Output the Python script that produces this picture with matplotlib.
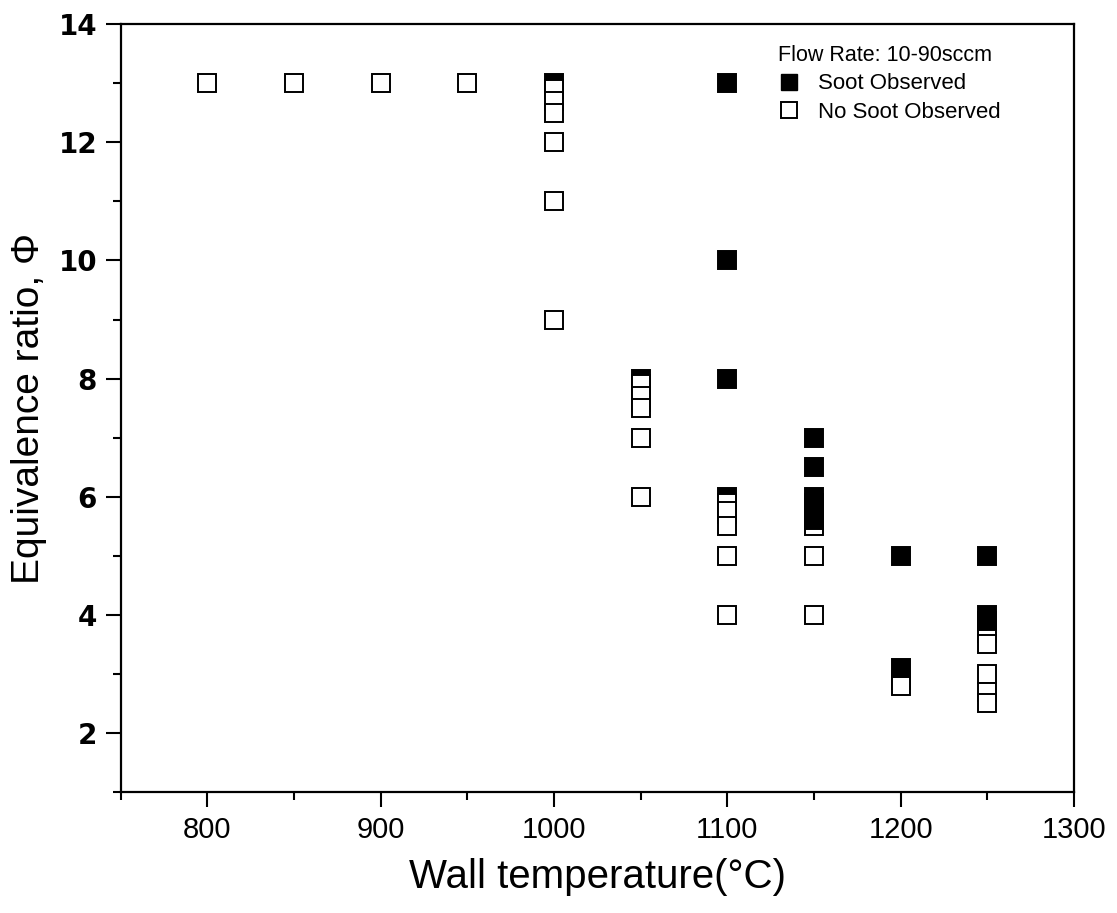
import numpy as np
import matplotlib.pyplot as plt
from matplotlib.ticker import MultipleLocator
from matplotlib.lines import Line2D

plt.rcParams['font.family'] = ['Liberation Sans', 'DejaVu Sans']

# Soot observed (filled squares)
soot_T = [1000, 1050, 1050, 1100, 1100, 1100, 1100, 1100,
          1150, 1150, 1150, 1150, 1150, 1150, 1150,
          1200, 1200, 1250, 1250, 1250]
soot_phi = [13, 8, 7.6, 13, 10, 8, 6, 5.7,
            7, 6.5, 6, 5.9, 5.8, 5.7, 5.6,
            5, 3.1, 5, 4, 3.9]

# No soot observed (open squares)
nosoot_T = [800, 850, 900, 950,
            1000, 1000, 1000, 1000, 1000, 1000,
            1050, 1050, 1050, 1050, 1050,
            1100, 1100, 1100, 1100, 1100,
            1150, 1150, 1150,
            1200, 1200,
            1250, 1250, 1250, 1250, 1250]
nosoot_phi = [13, 13, 13, 13,
              12.9, 12.7, 12.5, 12, 11, 9,
              7.9, 7.7, 7.5, 7, 6,
              5.9, 5.75, 5.5, 5, 4,
              5.5, 5, 4,
              2.9, 2.8,
              3.7, 3.5, 3, 2.7, 2.5]

soot_T = np.array(soot_T)
soot_phi = np.array(soot_phi)

fig = plt.figure(figsize=(11.17, 9.13), dpi=100)
ax = fig.add_axes([0.108, 0.1325, 0.8535, 0.841])

ms = 12.5
mew = 1.4
# filled markers sit under the open ones at low T, above them at high T
low = soot_T <= 1100
ax.plot(soot_T[low], soot_phi[low], 's', ms=ms, mfc='black', mec='black', mew=mew, ls='none', zorder=2)
ax.plot(nosoot_T, nosoot_phi, 's', ms=ms, mfc='white', mec='black', mew=mew, ls='none', zorder=3)
ax.plot(soot_T[~low], soot_phi[~low], 's', ms=ms, mfc='black', mec='black', mew=mew, ls='none', zorder=4)

ax.set_xlim(750, 1300)
ax.set_ylim(1, 14)
ax.xaxis.set_major_locator(MultipleLocator(100))
ax.xaxis.set_minor_locator(MultipleLocator(50))
ax.yaxis.set_major_locator(MultipleLocator(2))
ax.yaxis.set_minor_locator(MultipleLocator(1))
ax.tick_params(which='major', direction='out', length=11, width=1.5)
ax.tick_params(which='minor', direction='out', length=6, width=1.5)
ax.tick_params(axis='x', labelsize=21, pad=6)
ax.tick_params(axis='y', labelsize=20, pad=6)
for lab in ax.get_yticklabels():
    lab.set_fontweight('bold')
    lab.set_family('DejaVu Sans')
for s in ax.spines.values():
    s.set_linewidth(1.6)

ax.set_xlabel('Wall temperature(°C)', fontsize=29, labelpad=10)
ax.set_ylabel('Equivalence ratio, Φ', fontsize=28, labelpad=8)

handles = [Line2D([], [], marker='s', ls='none', ms=11, mfc='black', mec='black'),
           Line2D([], [], marker='s', ls='none', ms=11, mfc='white', mec='black', mew=1.4)]
leg = ax.legend(handles, ['Soot Observed', 'No Soot Observed'], title='Flow Rate: 10-90sccm',
                loc='upper right', bbox_to_anchor=(0.932, 0.985), frameon=False,
                fontsize=16, title_fontsize=15.5, handletextpad=0.8, borderaxespad=0.0,
                labelspacing=0.35, handlelength=1.0)
leg._legend_box.align = 'left'

fig.savefig('out.png', dpi=100)
